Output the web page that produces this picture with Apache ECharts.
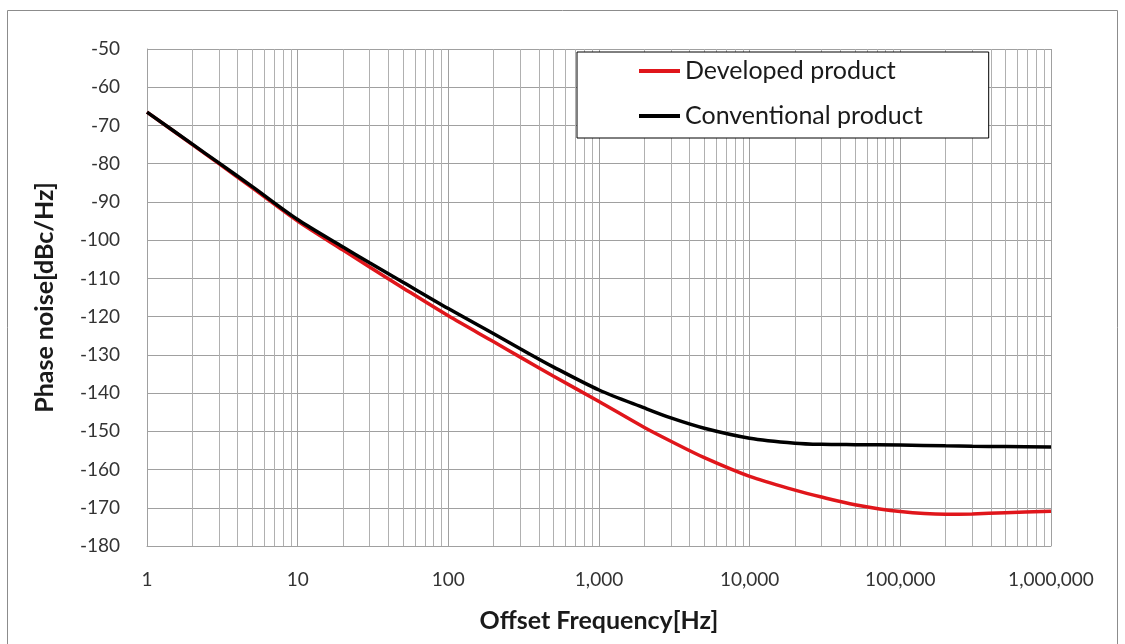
<!DOCTYPE html>
<html>
<head>
<meta charset="utf-8">
<script src="https://cdn.jsdelivr.net/npm/echarts@6/dist/echarts.min.js"></script>
<style>
html,body{margin:0;padding:0;background:#fff;}
#chart{width:1125px;height:644px;}
</style>
</head>
<body>
<div id="chart"></div>
<script>
const frequencies = [1,2,3,5,10,20,30,50,100,200,300,500,1000,2000,3000,5000,10000,20000,30000,50000,100000,200000,300000,500000,1000000];
const developedProduct = [-66.5,-75.0,-80.0,-86.3,-95.0,-102.6,-107.0,-112.5,-119.8,-126.6,-130.6,-135.6,-142.2,-149.0,-152.6,-156.9,-161.8,-165.4,-167.2,-169.2,-171.0,-171.7,-171.6,-171.3,-170.9];
const conventionalProduct = [-66.5,-74.9,-79.8,-86.0,-94.6,-101.8,-105.9,-111.0,-117.9,-124.5,-128.4,-133.2,-139.2,-143.9,-146.5,-149.2,-151.8,-153.1,-153.4,-153.5,-153.6,-153.8,-153.9,-154.0,-154.1];
const minorGridFreqs = [];
[1,10,100,1000,10000,100000].forEach(function(d){ for (let m=2;m<=9;m++) minorGridFreqs.push(m*d); });
const seriesNames = ['Developed product','Conventional product'];

const FONT = 'Lato';
const chart = echarts.init(document.getElementById('chart'), null, {renderer:'canvas'});
const pair = (xs, ys) => xs.map((x,i)=>[x, ys[i]]);

chart.setOption({
  animation:false,
  backgroundColor:'#ffffff',
  textStyle:{fontFamily:FONT},
  graphic:[{type:'rect', shape:{x:7.5,y:10.5,width:1110,height:650}, style:{fill:'none', stroke:'#8c8c8c', lineWidth:1}, silent:true, z:-10}],
  grid:{left:147, top:49, right:74, bottom:98, containLabel:false},
  legend:{
    orient:'vertical', left:577, top:52, z:20,
    padding:[6,66,9,62],
    backgroundColor:'#ffffff', borderColor:'#000000', borderWidth:1,
    itemWidth:41, itemHeight:4, itemGap:19,
    icon:'rect',
    textStyle:{fontFamily:FONT, fontSize:25, color:'#1a1a1a', lineHeight:26},
    data:seriesNames
  },
  xAxis:{
    type:'log', logBase:10, min:1, max:1000000, splitNumber:6,
    name:'Offset Frequency[Hz]', nameLocation:'middle', nameGap:62,
    nameTextStyle:{fontFamily:FONT, fontSize:25, fontWeight:'bold', color:'#1a1a1a'},
    axisLine:{lineStyle:{color:'#a0a0a0', width:1}},
    axisTick:{show:false},
    axisLabel:{fontFamily:FONT, fontSize:19, color:'#333333', margin:24,
      formatter:function(v){ return Number(v).toLocaleString('en-US'); }},
    splitLine:{show:true, lineStyle:{color:'#a0a0a0', width:1}}
  },
  yAxis:{
    type:'value', min:-180, max:-50, interval:10,
    name:'Phase noise[dBc/Hz]', nameLocation:'middle', nameGap:90,
    nameTextStyle:{fontFamily:FONT, fontSize:25, fontWeight:'bold', color:'#1a1a1a'},
    axisLine:{show:true, lineStyle:{color:'#a0a0a0', width:1}},
    axisTick:{show:false},
    axisLabel:{fontFamily:FONT, fontSize:19, color:'#333333', margin:27},
    splitLine:{show:true, lineStyle:{color:'#a0a0a0', width:1}}
  },
  series:[
    {
      name:'minor-grid', type:'line', data:[[1,-180]], showSymbol:false, symbol:'none',
      lineStyle:{opacity:0}, silent:true, z:1, legendHoverLink:false,
      markLine:{silent:true, z:1, symbol:['none','none'], label:{show:false}, animation:false,
        lineStyle:{color:'#b0b0b0', width:1, type:'solid'},
        emphasis:{disabled:true},
        data:minorGridFreqs.map(function(f){ return {xAxis:f}; })}
    },
    {
      name:seriesNames[0], type:'line', data:pair(frequencies, developedProduct),
      smooth:0.3, showSymbol:false, symbol:'none', z:3,
      lineStyle:{color:'#e0161b', width:3.5}, itemStyle:{color:'#e0161b'}
    },
    {
      name:seriesNames[1], type:'line', data:pair(frequencies, conventionalProduct),
      smooth:0.3, showSymbol:false, symbol:'none', z:4,
      lineStyle:{color:'#000000', width:3.5}, itemStyle:{color:'#000000'}
    }
  ]
});
</script>
</body>
</html>
